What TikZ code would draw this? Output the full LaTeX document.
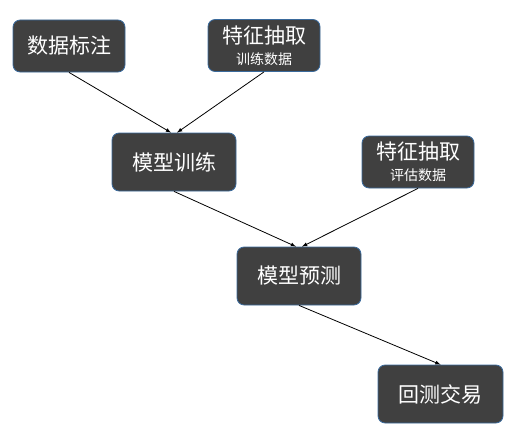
\documentclass[tikz,border=0pt]{standalone}
\usepackage{fontspec}
\setmainfont{Noto Sans CJK SC}
\definecolor{boxfill}{HTML}{404040}
\definecolor{boxborder}{HTML}{3A6A9C}
\begin{document}
\begin{tikzpicture}[
    x=1pt, y=-1pt,
    arrowstyle/.style={draw, -latex, line width=0.8pt},
    process/.style={rectangle, draw=boxborder, fill=boxfill, line width=0.8pt,
        rounded corners=2.5mm, text=white, inner sep=0pt,
        font=\fontsize{21}{25}\selectfont,
        minimum width=124pt, minimum height=58pt},
    feature/.style={process, align=center,
        minimum width=112pt, minimum height=52pt}
]
\useasboundingbox (0,0) rectangle (518,436);

\node (Label) [process, minimum width=112pt, minimum height=52pt] at (69,46) {数据标注};
\node (FeatTrain) [feature] at (264,45.5) {特征抽取\\[-4pt]{\fontsize{14}{16}\selectfont 训练数据}};
\node (Train) [process] at (174,162) {模型训练};
\node (FeatEval) [feature] at (418,162) {特征抽取\\[-4pt]{\fontsize{14}{16}\selectfont 评估数据}};
\node (Predict) [process] at (299,276) {模型预测};
\node (Backtest) [process, minimum width=125pt] at (440.5,394) {回测交易};

\draw[arrowstyle] (Label.south) -- ([xshift=-3pt]Train.north);
\draw[arrowstyle] (FeatTrain.south) -- ([xshift=3pt]Train.north);
\draw[arrowstyle] (Train.south) -- ([xshift=-3pt]Predict.north);
\draw[arrowstyle] (FeatEval.south) -- ([xshift=3pt]Predict.north);
\draw[arrowstyle] (Predict.south) -- (Backtest.north);

\end{tikzpicture}
\end{document}
